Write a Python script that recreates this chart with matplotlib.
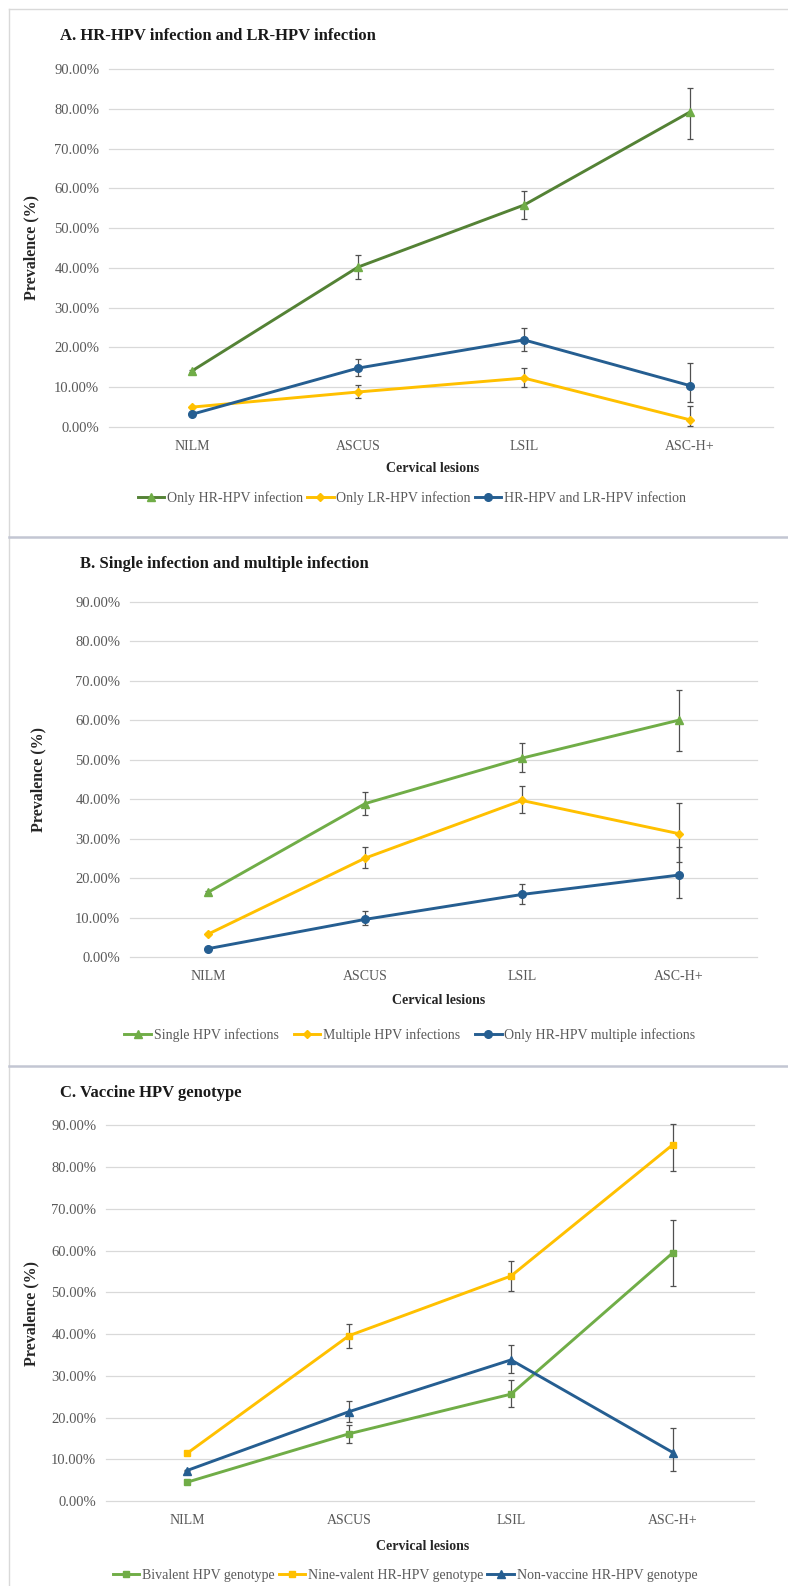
import numpy as np
import matplotlib.pyplot as plt
from matplotlib.lines import Line2D

plt.rcParams['font.family'] = ['Liberation Serif', 'DejaVu Serif']

W, H = 788, 1586
fig = plt.figure(figsize=(W / 100, H / 100), dpi=100)


def fx(x):
    return x / W


def fy(y):
    return 1 - y / H


categories = ['NILM', 'ASCUS', 'LSIL', 'ASC-H+']

# A. HR-HPV / LR-HPV infection (prevalence %, lower and upper CI)
hr_only = [14.1, 40.2, 55.8, 79.2]
hr_only_lo = [13.8, 37.2, 52.3, 72.4]
hr_only_hi = [14.4, 43.2, 59.3, 85.2]
lr_only = [5.0, 8.8, 12.3, 1.8]
lr_only_lo = [4.8, 7.2, 10.0, 0.35]
lr_only_hi = [5.2, 10.5, 14.8, 5.3]
hr_lr = [3.2, 14.8, 21.9, 10.4]
hr_lr_lo = [3.0, 12.8, 19.1, 6.2]
hr_lr_hi = [3.4, 17.1, 24.9, 16.2]

# B. single vs multiple infection
single = [16.5, 38.9, 50.4, 60.0]
single_lo = [16.2, 36.0, 47.0, 52.1]
single_hi = [16.8, 41.8, 54.2, 67.7]
multiple = [5.9, 25.1, 39.7, 31.3]
multiple_lo = [5.7, 22.5, 36.4, 24.2]
multiple_hi = [6.1, 27.8, 43.3, 39.0]
hr_multiple = [2.2, 9.6, 15.9, 20.8]
hr_multiple_lo = [2.1, 8.1, 13.5, 14.9]
hr_multiple_hi = [2.3, 11.6, 18.6, 27.8]

# C. vaccine genotypes
bivalent = [4.5, 16.1, 25.6, 59.5]
bivalent_lo = [4.3, 14.0, 22.6, 51.5]
bivalent_hi = [4.7, 18.3, 28.9, 67.2]
ninevalent = [11.4, 39.6, 53.9, 85.4]
ninevalent_lo = [11.1, 36.7, 50.4, 79.0]
ninevalent_hi = [11.7, 42.5, 57.4, 90.2]
nonvaccine = [7.3, 21.4, 33.8, 11.6]
nonvaccine_lo = [7.1, 18.9, 30.6, 7.1]
nonvaccine_hi = [7.5, 24.0, 37.3, 17.6]

yticks = np.arange(0, 91, 10)

DKGREEN = '#548235'
GREEN = '#70AD47'
YELLOW = '#FFC000'
BLUE = '#255E91'
GRID = '#d9d9d9'
TXT = '#595959'


def panel(box, title, title_xy, series, ylab_xy, xlab_xy, leg_xy, colsp):
    left, right, top, bottom = box
    ax = fig.add_axes([fx(left), fy(bottom), (right - left) / W, (bottom - top) / H])
    x = np.arange(len(categories))
    handles = []
    for name, vals, lo, hi, color, mfc, marker, ms in series:
        vals = np.array(vals)
        err = [vals - np.array(lo), np.array(hi) - vals]
        ax.errorbar(x, vals, yerr=err, fmt='none', ecolor='#505050',
                    elinewidth=0.9, capsize=2.5, capthick=0.9, zorder=2.5, clip_on=False)
        ax.plot(x, vals, color=color, lw=2.1, marker=marker, ms=ms,
                mfc=mfc, mec=mfc, zorder=3, clip_on=False)
        handles.append(Line2D([], [], color=color, lw=2.1, marker=marker,
                              ms=ms, mfc=mfc, mec=mfc, label=name))
    ax.set_xlim(-0.5, 3.5)
    ax.set_ylim(0, 90)
    ax.set_xticks(x)
    ax.set_xticklabels(categories)
    ax.set_yticks(yticks)
    ax.set_yticklabels([f'{v:.2f}%' for v in yticks])
    ax.grid(axis='y', color=GRID, lw=0.9)
    ax.set_axisbelow(True)
    for gl in ax.get_ygridlines():
        gl.set_clip_on(False)
    for s in ax.spines.values():
        s.set_visible(False)
    ax.tick_params(axis='both', length=0, labelsize=10, colors=TXT)
    ax.tick_params(axis='y', labelsize=10.5, pad=7)
    ax.tick_params(axis='x', pad=9)

    fig.text(fx(title_xy[0]), fy(title_xy[1]), title, fontsize=12,
             fontweight='bold', color='#1a1a1a', ha='left', va='center')
    fig.text(fx(ylab_xy[0]), fy(ylab_xy[1]), 'Prevalence (%)', fontsize=11.5,
             fontweight='bold', color='#262626', rotation=90, ha='center', va='center')
    fig.text(fx(xlab_xy[0]), fy(xlab_xy[1]), 'Cervical lesions', fontsize=10,
             fontweight='bold', color='#262626', ha='center', va='center')
    leg = ax.legend(handles=handles, loc='center', bbox_to_anchor=(fx(leg_xy[0]), fy(leg_xy[1])),
                    bbox_transform=fig.transFigure, ncol=3, frameon=False, fontsize=10,
                    handlelength=1.9, handletextpad=0.2, columnspacing=colsp)
    for t in leg.get_texts():
        t.set_color(TXT)
    return ax


panel((109, 773, 69, 427), 'A. HR-HPV infection and LR-HPV infection', (60, 36),
      [('Only HR-HPV infection', hr_only, hr_only_lo, hr_only_hi, DKGREEN, GREEN, '^', 5.5),
       ('Only LR-HPV infection', lr_only, lr_only_lo, lr_only_hi, YELLOW, YELLOW, 'D', 4.5),
       ('HR-HPV and LR-HPV infection', hr_lr, hr_lr_lo, hr_lr_hi, BLUE, BLUE, 'o', 5.5)],
      (31, 248), (433, 469), (412, 498), 0.3)

panel((130, 757, 601.7, 957.3), 'B. Single infection and multiple infection', (80, 564),
      [('Single HPV infections', single, single_lo, single_hi, GREEN, GREEN, '^', 5.5),
       ('Multiple HPV infections', multiple, multiple_lo, multiple_hi, YELLOW, YELLOW, 'D', 4.5),
       ('Only HR-HPV multiple infections', hr_multiple, hr_multiple_lo, hr_multiple_hi, BLUE, BLUE, 'o', 5.5)],
      (38, 780), (439, 1001), (410, 1035), 1.1)

panel((106, 754, 1125.3, 1501), 'C. Vaccine HPV genotype', (60, 1093),
      [('Bivalent HPV genotype', bivalent, bivalent_lo, bivalent_hi, GREEN, GREEN, 's', 4.5),
       ('Nine-valent HR-HPV genotype', ninevalent, ninevalent_lo, ninevalent_hi, YELLOW, YELLOW, 's', 4.5),
       ('Non-vaccine HR-HPV genotype', nonvaccine, nonvaccine_lo, nonvaccine_hi, BLUE, BLUE, '^', 5.5)],
      (31, 1313), (423, 1547), (405, 1575), 0.3)

# panel frames and separators
fig.add_artist(Line2D([fx(9), fx(W)], [fy(9), fy(9)], color=GRID, lw=1))
fig.add_artist(Line2D([fx(9), fx(9)], [fy(9), fy(H)], color=GRID, lw=1))
for ysep in (537, 1066):
    fig.add_artist(Line2D([fx(9), fx(W)], [fy(ysep), fy(ysep)], color='#c3c6d3', lw=1.8))

fig.savefig('out.png', dpi=100)
